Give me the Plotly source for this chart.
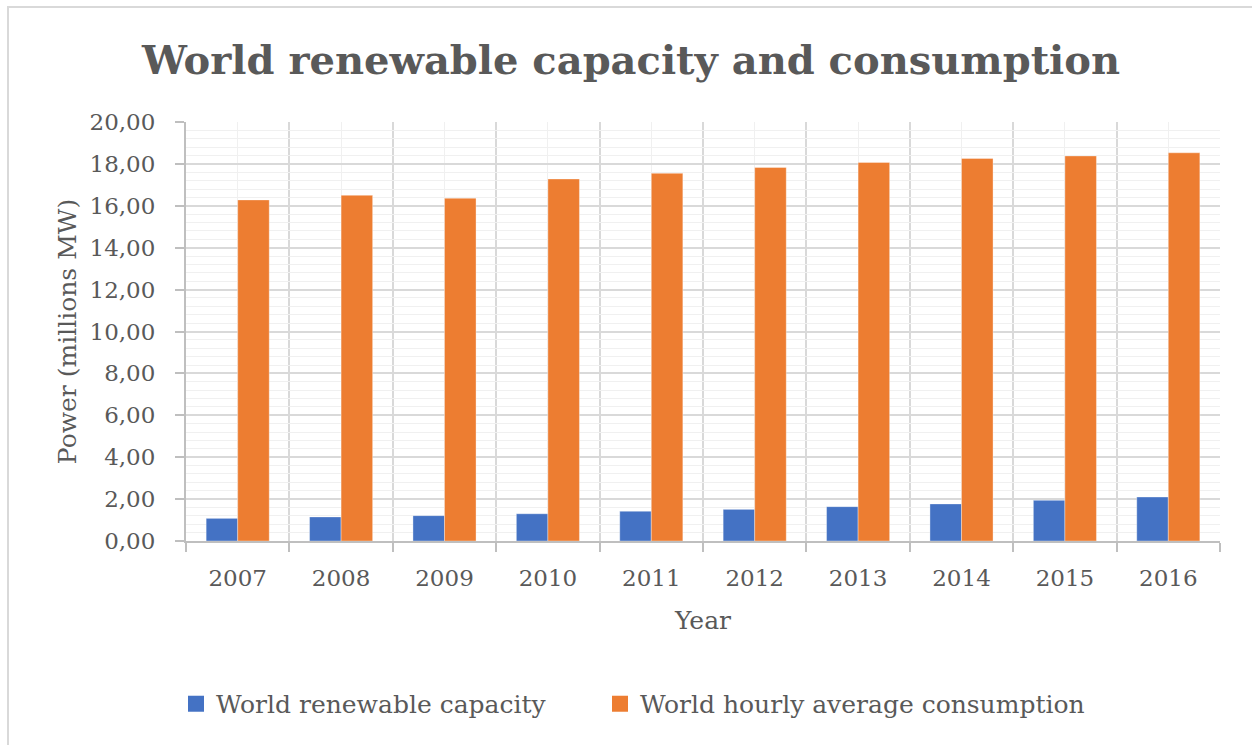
import plotly.graph_objects as go

years = ["2007", "2008", "2009", "2010", "2011", "2012", "2013", "2014", "2015", "2016"]
renewable_capacity = [1.08, 1.15, 1.21, 1.30, 1.42, 1.51, 1.64, 1.77, 1.94, 2.10]
hourly_consumption = [16.28, 16.50, 16.36, 17.28, 17.55, 17.83, 18.07, 18.26, 18.38, 18.53]
y_ticks = [0, 2, 4, 6, 8, 10, 12, 14, 16, 18, 20]
y_tick_labels = [f"{v:.2f}".replace(".", ",") for v in y_ticks]
series_names = ["World renewable capacity", "World hourly average consumption"]

BLUE = "#4472C4"
ORANGE = "#ED7D31"
TEXT = "#595959"
FONT = "DejaVu Serif"

xpos = list(range(len(years)))

fig = go.Figure()
for vals, name, color in [(renewable_capacity, series_names[0], BLUE),
                          (hourly_consumption, series_names[1], ORANGE)]:
    fig.add_trace(go.Bar(
        x=xpos, y=vals, name=name, showlegend=False,
        marker=dict(color=color, line=dict(color="rgba(255,255,255,0.35)", width=1)),
    ))

# Legend entries with larger square keys, one legend box per series
for name, color, lg in [(series_names[0], BLUE, "legend"), (series_names[1], ORANGE, "legend2")]:
    fig.add_trace(go.Scatter(
        x=[None], y=[None], mode="markers", name=name, legend=lg,
        marker=dict(symbol="square", size=16, color=color),
    ))

legend_style = dict(
    orientation="h", xanchor="left", y=-0.389, yanchor="middle",
    font=dict(family=FONT, size=25, color=TEXT),
    itemwidth=30, itemsizing="trace", bgcolor="rgba(0,0,0,0)",
)

fig.update_layout(
    width=1252, height=745,
    margin=dict(l=186, r=32, t=122, b=204),
    paper_bgcolor="white", plot_bgcolor="white",
    barmode="group", bargap=0.39, bargroupgap=0,
    font=dict(family=FONT, color=TEXT, size=22),
    title=dict(
        text="<b>World renewable capacity and consumption</b>",
        x=0.504, xanchor="center", y=0.919, yanchor="middle",
        font=dict(family=FONT, size=40, color=TEXT),
    ),
    legend=dict(x=(176 - 186) / 1034, **legend_style),
    legend2=dict(x=(600 - 186) / 1034, **legend_style),
    xaxis=dict(
        range=[-0.5, len(years) - 0.5],
        tickmode="array", tickvals=xpos, ticktext=years,
        tickfont=dict(family=FONT, size=23, color=TEXT),
        ticklabelstandoff=15,
        showgrid=True, gridcolor="#f0f0f0", gridwidth=1,
        ticks="", showline=True, linecolor="#bfbfbf", linewidth=2,
        minor=dict(tick0=-0.5, dtick=1, showgrid=True, gridcolor="#d9d9d9",
                   gridwidth=1.5, ticks="outside", ticklen=9, tickcolor="#bfbfbf",
                   tickwidth=2),
        title=dict(text="Year", font=dict(family=FONT, size=25, color=TEXT), standoff=22),
        zeroline=False,
    ),
    yaxis=dict(
        range=[0, 20],
        tickmode="array", tickvals=y_ticks, ticktext=y_tick_labels,
        tickfont=dict(family=FONT, size=23, color=TEXT),
        ticklabelstandoff=15,
        showgrid=True, gridcolor="#d9d9d9", gridwidth=1.5,
        ticks="outside", ticklen=9, tickcolor="#bfbfbf", tickwidth=2,
        showline=True, linecolor="#bfbfbf", linewidth=2,
        minor=dict(dtick=0.4, showgrid=True, gridcolor="#f0f0f0", gridwidth=1),
        title=dict(text="Power (millions MW)", font=dict(family=FONT, size=25, color=TEXT), standoff=6),
        zeroline=False,
    ),
)

# Chart-area frame around the whole figure
fig.add_shape(
    type="rect", xref="paper", yref="paper",
    x0=(8 - 186) / 1034, x1=1.1, y0=-0.6, y1=(541 - 7) / 419,
    line=dict(color="#d9d9d9", width=2), fillcolor="rgba(0,0,0,0)", layer="below",
)

fig.write_html("out.html")
